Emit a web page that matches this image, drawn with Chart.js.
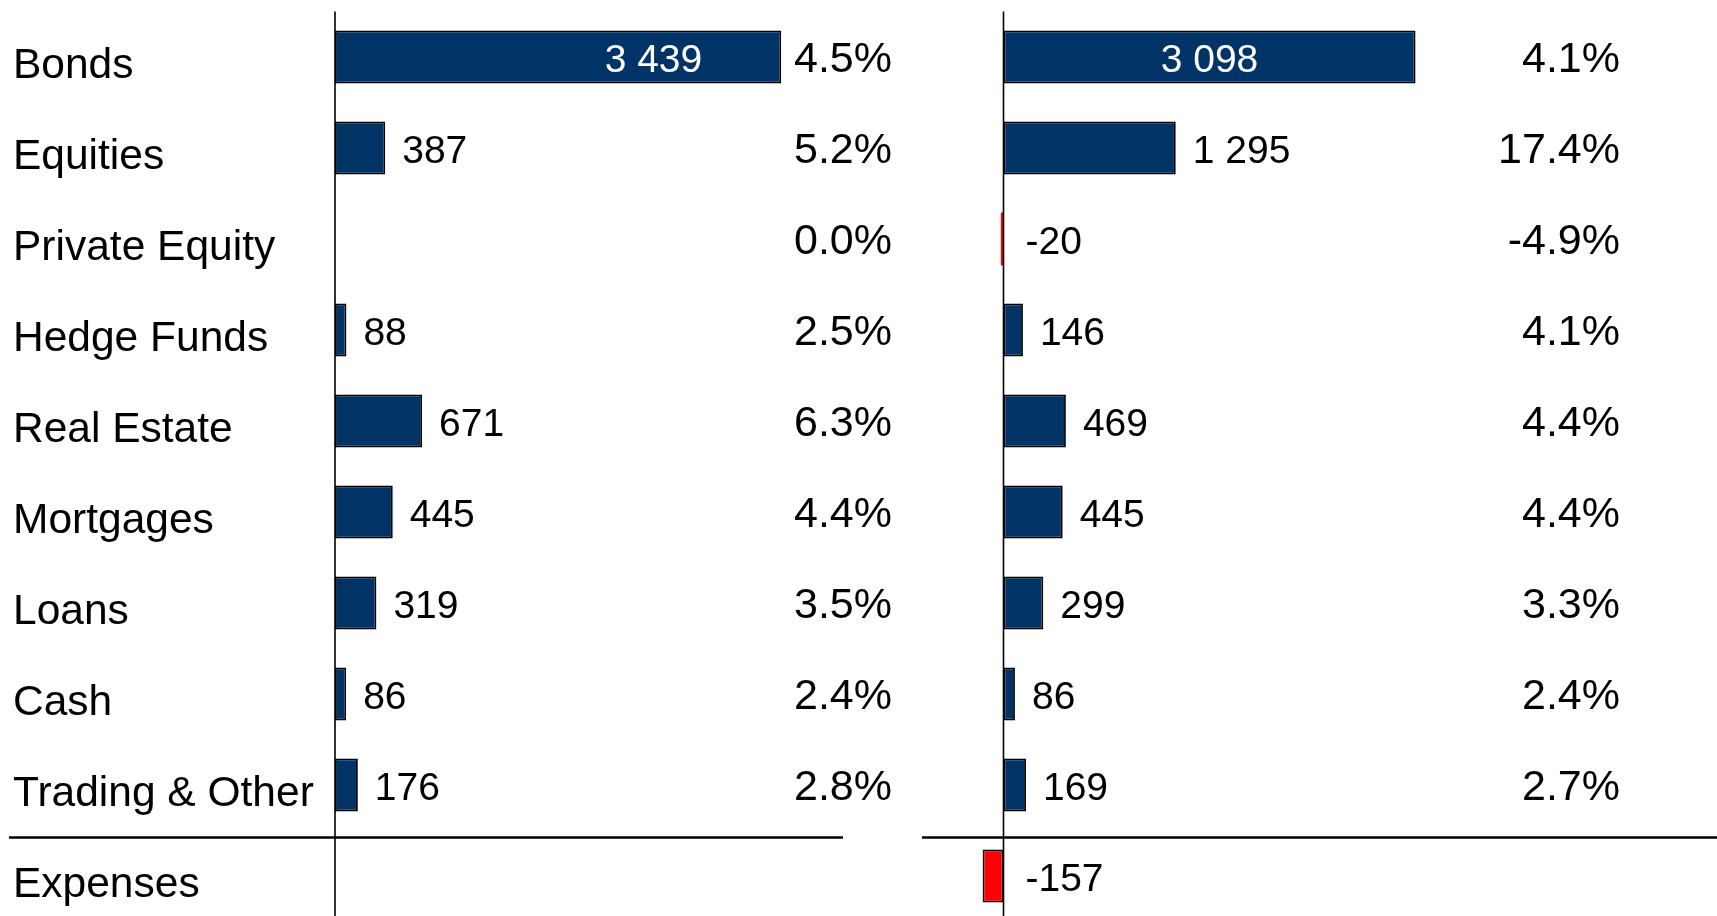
<!DOCTYPE html>
<html>
<head>
<meta charset="utf-8">
<script src="https://cdn.jsdelivr.net/npm/chart.js@4/dist/chart.umd.min.js"></script>
<style>
  html, body { margin: 0; padding: 0; background: #fff; overflow: hidden; }
  #wrap { position: relative; width: 1717px; height: 916px; overflow: hidden; }
  canvas { position: absolute; top: 0; }
  #left { left: 0; }
  #right { left: 900px; }
</style>
</head>
<body>
<div id="wrap">
  <canvas id="left" width="900" height="922"></canvas>
  <canvas id="right" width="817" height="922"></canvas>
</div>
<script>
const categories = ['Bonds', 'Equities', 'Private Equity', 'Hedge Funds', 'Real Estate',
  'Mortgages', 'Loans', 'Cash', 'Trading & Other', 'Expenses'];

// left panel
const leftValues = [3439, 387, 0, 88, 671, 445, 319, 86, 176, null];
const leftReturns = [4.5, 5.2, 0.0, 2.5, 6.3, 4.4, 3.5, 2.4, 2.8, null];

// right panel
const rightValues = [3098, 1295, -20, 146, 469, 445, 299, 86, 169, -157];
const rightReturns = [4.1, 17.4, -4.9, 4.1, 4.4, 4.4, 3.3, 2.4, 2.7, null];

const FONT = '"Liberation Sans", Arial, sans-serif';
const NAVY = '#003366';
const RED = '#ff0000';

function fmt(v) {
  return String(v).replace(/\B(?=(\d{3})+(?!\d))/g, ' ');
}

const rowLabels = {
  id: 'rowLabels',
  afterDatasetsDraw(chart, args, opts) {
    const ctx = chart.ctx;
    const x = chart.scales.x, y = chart.scales.y, area = chart.chartArea;
    const vals = chart.data.datasets[0].data;
    const x0 = x.getPixelForValue(0);
    ctx.save();

    // zero line
    ctx.strokeStyle = '#000';
    ctx.lineWidth = 1.6;
    ctx.beginPath();
    ctx.moveTo(x0, area.top);
    ctx.lineTo(x0, area.bottom);
    ctx.stroke();

    // line above expenses
    const ySep = (y.getPixelForValue(8) + y.getPixelForValue(9)) / 2 + 7;
    ctx.lineWidth = 2.5;
    ctx.beginPath();
    ctx.moveTo(opts.sepFrom, ySep);
    ctx.lineTo(opts.sepTo, ySep);
    ctx.stroke();

    // bar values
    ctx.font = '39px ' + FONT;
    ctx.textBaseline = 'middle';
    vals.forEach((v, i) => {
      if (!v) return;
      const yc = y.getPixelForValue(i) + 4;
      const xe = x.getPixelForValue(v);
      if (Math.abs(xe - x0) > 300) {
        ctx.fillStyle = '#fff';
        if (opts.inside === 'end') {
          ctx.textAlign = 'right';
          ctx.fillText(fmt(v), xe - 79, yc);
        } else {
          ctx.textAlign = 'center';
          ctx.fillText(fmt(v), (x0 + xe) / 2, yc);
        }
      } else {
        ctx.fillStyle = '#000';
        ctx.textAlign = 'left';
        const start = v > 0 ? xe + 17 : x0 + 22;
        ctx.fillText(fmt(v), start, yc);
      }
    });

    // return column
    ctx.font = '43px ' + FONT;
    ctx.textAlign = 'right';
    ctx.fillStyle = '#000';
    opts.returns.forEach((r, i) => {
      if (r === null) return;
      ctx.fillText(r.toFixed(1) + '%', opts.pctX, y.getPixelForValue(i) + 3);
    });
    ctx.restore();
  }
};

function makeChart(id, values, returns, showCats, xMin, xMax, padding, extra) {
  return new Chart(document.getElementById(id), {
    type: 'bar',
    data: {
      labels: categories,
      datasets: [{
        data: values,
        backgroundColor: ctx => (ctx.raw < 0 ? RED : NAVY),
        borderColor: '#000',
        borderWidth: ctx => (Math.abs(ctx.raw || 0) < 50 ? 0 : 1.8),
        borderSkipped: false,
        barPercentage: 0.585,
        categoryPercentage: 1
      }]
    },
    options: {
      indexAxis: 'y',
      responsive: false,
      animation: false,
      devicePixelRatio: 1,
      layout: { padding },
      plugins: {
        legend: { display: false },
        tooltip: { enabled: false },
        rowLabels: Object.assign({ returns }, extra)
      },
      scales: {
        x: { display: false, min: xMin, max: xMax },
        y: {
          display: showCats,
          grid: { display: false },
          border: { display: false },
          afterFit: s => {
            if (showCats) s.width = 322;
            s.paddingTop = 0;
            s.paddingBottom = 0;
          },
          ticks: {
            color: '#000',
            font: { family: FONT, size: 42.5 },
            crossAlign: 'far',
            padding: 0,
            labelOffset: 9
          }
        }
      }
    },
    plugins: [rowLabels]
  });
}

makeChart('left', leftValues, leftReturns, true, 0, 4100,
  { left: 13, top: 11.5, right: 33, bottom: 0.5 },
  { pctX: 892, sepFrom: 9, sepTo: 843, inside: 'end' });

makeChart('right', rightValues, rightReturns, false, -300, 4000,
  { left: 63.6, top: 11.5, right: 181.5, bottom: 0.5 },
  { pctX: 720, sepFrom: 22, sepTo: 817, inside: 'center' });
</script>
</body>
</html>
